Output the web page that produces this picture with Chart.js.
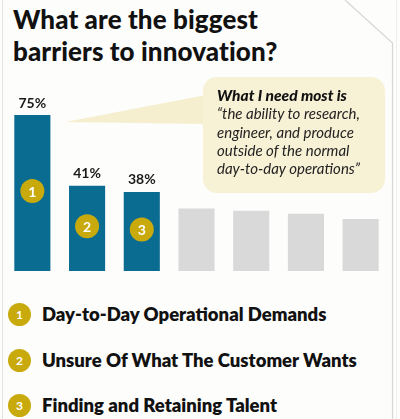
<!DOCTYPE html>
<html>
<head>
<meta charset="utf-8">
<script src="https://cdn.jsdelivr.net/npm/chart.js@4"></script>
<style>
  html, body { margin:0; padding:0; background:#fdfdfc; }
  #wrap { position:relative; width:400px; height:419px; overflow:hidden; background:#fdfdfc; }
  #frame { position:absolute; left:0; top:0; }
  #title { position:absolute; left:13px; top:3px; font-family:Lato, sans-serif; font-weight:900; font-size:26px; line-height:32px; color:#111; letter-spacing:0.1px; }
  #chartbox { position:absolute; left:0; top:0; width:400px; height:280px; }
  #callout { position:absolute; left:203px; top:77px; width:182px; height:116px; }
  #callout .txt { position:absolute; left:14px; top:9px; font-family:Lato, sans-serif; font-style:italic; font-size:15px; line-height:18.3px; color:#222; white-space:nowrap; }
  #callout b { font-weight:900; color:#111; font-size:15.5px; }
  .leg { position:absolute; left:8px; height:26px; display:flex; align-items:center; font-family:Lato, sans-serif; font-weight:800; font-size:18.5px; color:#111; white-space:nowrap; }
  .leg .dot { width:23px; height:23px; border-radius:50%; background:#C9AA0C; color:#fff; font-size:12px; font-weight:700; display:flex; align-items:center; justify-content:center; margin-right:11px; }
</style>
</head>
<body>
<div id="wrap">
  <svg id="frame" width="400" height="419">
    <line x1="2.5" y1="0" x2="2.5" y2="419" stroke="#e2e2e2" stroke-width="1"/>
    <polyline points="345,0 392.5,43 392.5,419" fill="none" stroke="#d6d6d6" stroke-width="1.2"/>
    <line x1="396.5" y1="0" x2="396.5" y2="419" stroke="#efefef" stroke-width="1"/>
    <polygon points="65,122 206,95 206,124" fill="#F5EFCF"/>
    <rect x="203" y="77" width="182" height="116" rx="14" ry="14" fill="#F7F1D6"/>
  </svg>
  <div id="title">What are the biggest<br>barriers to innovation?</div>
  <div id="chartbox"><canvas id="c" width="400" height="280"></canvas></div>
  <div id="callout"><div class="txt"><b>What I need most is</b><br>“the ability to research,<br>engineer, and produce<br>outside of the normal<br>day-to-day operations”</div></div>
  <div class="leg" style="top:301px"><span class="dot">1</span>Day-to-Day Operational Demands</div>
  <div class="leg" style="top:347px"><span class="dot">2</span>Unsure Of What The Customer Wants</div>
  <div class="leg" style="top:392px"><span class="dot">3</span>Finding and Retaining Talent</div>
</div>
<script>
const categories = ["Day-to-Day Operational Demands", "Unsure Of What The Customer Wants", "Finding and Retaining Talent", "Other 4", "Other 5", "Other 6", "Other 7"];
const values = [75, 41, 38, 30, 29, 27.5, 25];
const valueLabels = ["75%", "41%", "38%", "", "", "", ""];
const rankLabels = ["1", "2", "3", "", "", "", ""];
const barColors = ["#0B6C92", "#0B6C92", "#0B6C92", "#D9D9D9", "#D9D9D9", "#D9D9D9", "#D9D9D9"];

const overlay = {
  id: 'overlay',
  afterDatasetsDraw(chart) {
    const ctx = chart.ctx;
    const meta = chart.getDatasetMeta(0);
    meta.data.forEach((bar, i) => {
      if (valueLabels[i]) {
        ctx.save();
        ctx.font = "700 14px Lato, sans-serif";
        ctx.fillStyle = "#1a1a1a";
        ctx.textAlign = "center";
        ctx.textBaseline = "bottom";
        ctx.fillText(valueLabels[i], bar.x, bar.y - 5);
        ctx.restore();
      }
      if (rankLabels[i]) {
        const cy = (bar.y + bar.base) / 2 - 2;
        ctx.save();
        ctx.beginPath();
        ctx.arc(bar.x, cy, 12, 0, Math.PI * 2);
        ctx.fillStyle = "#C9AA0C";
        ctx.fill();
        ctx.font = "700 14px Lato, sans-serif";
        ctx.fillStyle = "#ffffff";
        ctx.textAlign = "center";
        ctx.textBaseline = "middle";
        ctx.fillText(rankLabels[i], bar.x, cy + 1);
        ctx.restore();
      }
    });
  }
};

new Chart(document.getElementById('c'), {
  type: 'bar',
  data: {
    labels: categories,
    datasets: [{ data: values, backgroundColor: barColors, borderWidth: 0, barPercentage: 0.66, categoryPercentage: 1 }]
  },
  options: {
    responsive: false,
    animation: false,
    devicePixelRatio: 1,
    layout: { padding: { left: 5, right: 12, top: 63, bottom: 9 } },
    plugins: { legend: { display: false }, tooltip: { enabled: false } },
    scales: {
      x: { display: false },
      y: { display: false, min: 0, max: 100 }
    }
  },
  plugins: [overlay]
});
</script>
</body>
</html>
